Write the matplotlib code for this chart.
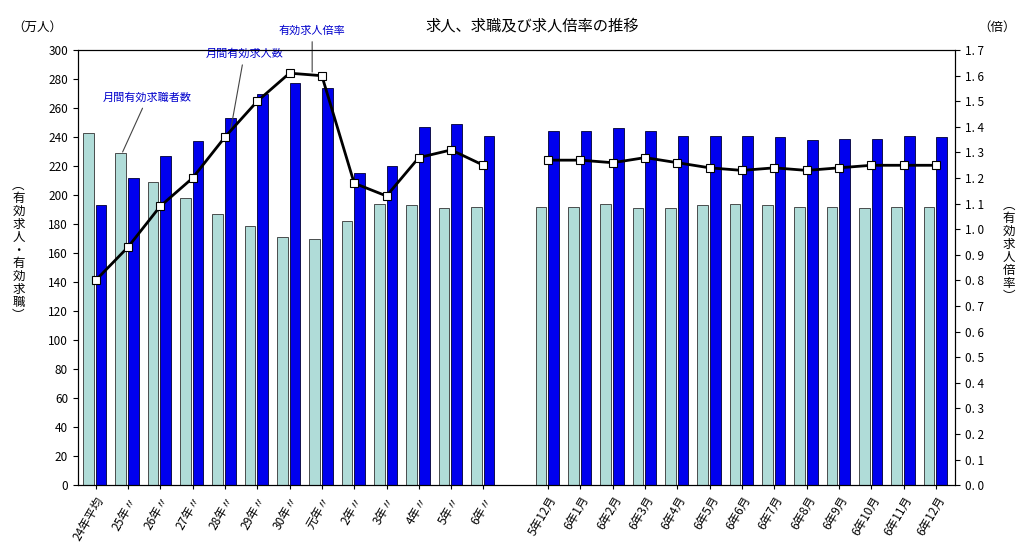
import matplotlib
matplotlib.use("Agg")
import matplotlib.pyplot as plt
import numpy as np

plt.rcParams["font.family"] = "Noto Sans CJK JP"

labels_year = ["24年平均", "25年〃", "26年〃", "27年〃", "28年〃", "29年〃", "30年〃", "元年〃", "2年〃", "3年〃", "4年〃", "5年〃", "6年〃"]
labels_month = ["5年12月", "6年1月", "6年2月", "6年3月", "6年4月", "6年5月", "6年6月", "6年7月", "6年8月", "6年9月", "6年10月", "6年11月", "6年12月"]
seekers_year = [243, 229, 209, 198, 187, 179, 171, 170, 182, 194, 193, 191, 192]
seekers_month = [192, 192, 194, 191, 191, 193, 194, 193, 192, 192, 191, 192, 192]
offers_year = [193, 212, 227, 237, 253, 270, 277, 274, 215, 220, 247, 249, 241]
offers_month = [244, 244, 246, 244, 241, 241, 241, 240, 238, 239, 239, 241, 240]
ratio_year = [0.80, 0.93, 1.09, 1.20, 1.36, 1.50, 1.61, 1.60, 1.18, 1.13, 1.28, 1.31, 1.25]
ratio_month = [1.27, 1.27, 1.26, 1.28, 1.26, 1.24, 1.23, 1.24, 1.23, 1.24, 1.25, 1.25, 1.25]

xy = np.arange(len(labels_year))
xm = np.arange(len(labels_month)) + len(labels_year) + 1
x = np.concatenate([xy, xm])
labels = labels_year + labels_month

fig = plt.figure(figsize=(10.24, 5.57), dpi=100)
ax = fig.add_axes([0.076, 0.129, 0.857, 0.781])
w = 0.33
ax.bar(x - 0.22, seekers_year + seekers_month, w, color="#b0dcd8", edgecolor="#333333", linewidth=0.6)
ax.bar(x + 0.17, offers_year + offers_month, w, color="#0000ee", edgecolor="#000033", linewidth=0.6)
ax.set_ylim(0, 300)
ax.set_yticks(range(0, 301, 20))
ax.set_xlim(-0.55, x[-1] + 0.6)
ax.set_xticks(x)
ax.set_xticklabels(labels, rotation=60, ha="right", rotation_mode="anchor", fontsize=8.5)
ax.tick_params(axis="y", labelsize=8.5)
ax.tick_params(axis="x", length=3)

ax2 = ax.twinx()
ax2.set_ylim(0, 1.7)
ax2.set_yticks(np.arange(0, 1.71, 0.1))
ax2.set_yticklabels([f"{v:.1f}".replace(".", ". ") for v in np.arange(0, 1.71, 0.1)], fontsize=8.5)
for xs, rs in [(xy, ratio_year), (xm, ratio_month)]:
    ax2.plot(xs, rs, color="black", linewidth=2, marker="s", markersize=6,
             markerfacecolor="white", markeredgecolor="black", markeredgewidth=0.8)

fig.text(0.52, 0.945, "求人、求職及び求人倍率の推移", ha="center", fontsize=11)
fig.text(0.012, 0.945, "（万人）", fontsize=9)
fig.text(0.955, 0.945, "（倍）", fontsize=9)
fig.text(0.018, 0.55, "︵\n有\n効\n求\n人\n・\n有\n効\n求\n職\n︶", ha="center", va="center", fontsize=9, linespacing=1.0)
fig.text(0.985, 0.55, "︵\n有\n効\n求\n人\n倍\n率\n︶", ha="center", va="center", fontsize=9, linespacing=1.0)

ax.annotate("月間有効求職者数", xy=(1 - 0.2, 228), xytext=(1.6, 265), color="#0000cc", fontsize=8,
            ha="center", arrowprops=dict(arrowstyle="-", color="#444444", lw=0.8))
ax.annotate("月間有効求人数", xy=(4.17, 244), xytext=(4.6, 295), color="#0000cc", fontsize=8,
            ha="center", arrowprops=dict(arrowstyle="-", color="#444444", lw=0.8))
ax.annotate("有効求人倍率", xy=(6.7, 283), xytext=(6.7, 311), color="#0000cc", fontsize=8,
            ha="center", annotation_clip=False, arrowprops=dict(arrowstyle="-", color="#444444", lw=0.8))

fig.savefig("out.png", dpi=100)
